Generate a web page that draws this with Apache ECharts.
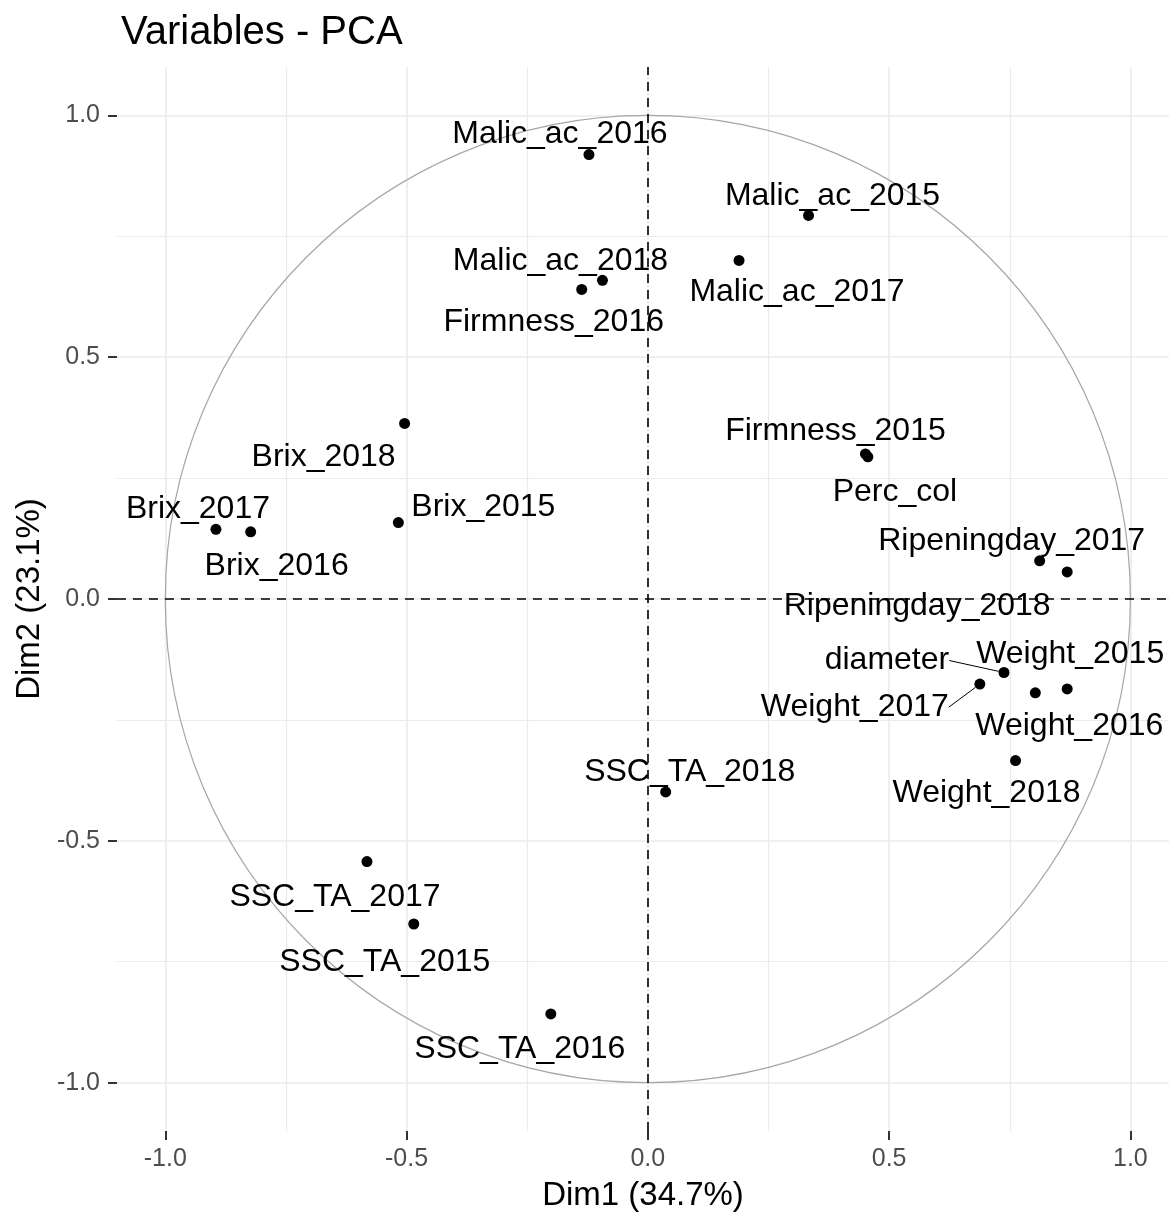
<!DOCTYPE html>
<html>
<head>
<meta charset="utf-8">
<script src="https://cdn.jsdelivr.net/npm/echarts@6/dist/echarts.min.js"></script>
<style>
  html, body { margin: 0; padding: 0; background: #fff; }
  #main { width: 1169px; height: 1212px; }
</style>
</head>
<body>
<div id="main"></div>
<script>
// variable coordinates
var varNames = ["Malic_ac_2015","Malic_ac_2016","Malic_ac_2017","Malic_ac_2018",
    "Firmness_2016","Firmness_2015","Perc_col",
    "Brix_2015","Brix_2016","Brix_2017","Brix_2018",
    "Ripeningday_2017","Ripeningday_2018","diameter",
    "Weight_2015","Weight_2016","Weight_2017","Weight_2018",
    "SSC_TA_2015","SSC_TA_2016","SSC_TA_2017","SSC_TA_2018"];
var dim1 = [0.333,-0.122,0.189,-0.094,
    -0.137,0.451,0.456,
    -0.517,-0.823,-0.895,-0.504,
    0.812,0.869,0.738,
    0.869,0.803,0.688,0.762,
    -0.485,-0.201,-0.582,0.037];
var dim2 = [0.793,0.919,0.700,0.659,
    0.640,0.300,0.294,
    0.158,0.139,0.144,0.363,
    0.079,0.056,-0.152,
    -0.186,-0.194,-0.176,-0.334,
    -0.672,-0.858,-0.543,-0.399];

var majorBreaks = [-1.0,-0.5,0.0,0.5,1.0];
var minorBreaks = [-0.75,-0.25,0.25,0.75];
var corCircle = [0, 0, 1]; // centre x, centre y, radius

// where each text label sits relative to its point (pixels), like ggrepel put them
var labelNudge = {
    "Malic_ac_2016":[-29,-20], "Malic_ac_2015":[24,-19], "Malic_ac_2017":[58,32],
    "Malic_ac_2018":[-42,-19], "Firmness_2016":[-28,33], "Firmness_2015":[-30,-23],
    "Perc_col":[27,35], "Brix_2018":[-81,34], "Brix_2017":[-18,-20],
    "Brix_2016":[26,34], "Brix_2015":[85,-15], "Ripeningday_2017":[-28,-20],
    "Ripeningday_2018":[-150,34], "diameter":[-117,-12], "Weight_2017":[-125,23],
    "Weight_2015":[3,-35], "Weight_2016":[34,33], "Weight_2018":[-29,33],
    "SSC_TA_2018":[24,-20], "SSC_TA_2017":[-32,36], "SSC_TA_2015":[-29,38],
    "SSC_TA_2016":[-31,35]
};
var withSegment = ["diameter","Weight_2017"];

var fontName = "'Liberation Sans', Arial, sans-serif";

var points = [];
for (var i = 0; i < varNames.length; i++) {
    var item = {
        name: varNames[i],
        value: [dim1[i], dim2[i]],
        label: { offset: labelNudge[varNames[i]] }
    };
    if (withSegment.indexOf(varNames[i]) >= 0) {
        item.labelLine = { show: true, lineStyle: { color: '#000', width: 1 } };
    }
    points.push(item);
}

var gridLines = [];
majorBreaks.forEach(function (v) {
    gridLines.push({ xAxis: v, lineStyle: { color: '#EBEBEB', width: 1.6, type: 'solid' } });
    gridLines.push({ yAxis: v, lineStyle: { color: '#EBEBEB', width: 1.6, type: 'solid' } });
});
minorBreaks.forEach(function (v) {
    gridLines.push({ xAxis: v, lineStyle: { color: '#EBEBEB', width: 1.2, type: 'solid' } });
    gridLines.push({ yAxis: v, lineStyle: { color: '#EBEBEB', width: 1.2, type: 'solid' } });
});

var chart = echarts.init(document.getElementById('main'));

var option = {
    animation: false,
    backgroundColor: '#fff',
    textStyle: { fontFamily: fontName },
    title: {
        text: 'Variables - PCA',
        left: 116,
        top: 8,
        textStyle: { fontSize: 40, fontWeight: 'normal', color: '#000', fontFamily: fontName }
    },
    grid: { left: 117, top: 67, right: 0, bottom: 81, containLabel: false, outerBoundsMode: 'none' },
    xAxis: {
        type: 'value',
        min: -1.1,
        max: 1.08,
        name: 'Dim1 (34.7%)',
        nameLocation: 'middle',
        nameGap: 48,
        nameTextStyle: { fontSize: 33, color: '#000', fontFamily: fontName },
        axisLine: { show: true, onZero: false, lineStyle: { color: 'rgba(0,0,0,0)', width: 0 } },
        axisTick: { show: true, length: 9, customValues: majorBreaks,
            lineStyle: { color: '#333', width: 2 } },
        axisLabel: { customValues: majorBreaks, margin: 16, fontSize: 25, color: '#4D4D4D',
            fontFamily: fontName, formatter: function (v) { return v.toFixed(1); } },
        splitLine: { show: false }
    },
    yAxis: {
        type: 'value',
        min: -1.1,
        max: 1.1,
        name: 'Dim2 (23.1%)',
        nameLocation: 'middle',
        nameGap: 66,
        nameRotate: 90,
        nameTextStyle: { fontSize: 33, color: '#000', fontFamily: fontName },
        axisLine: { show: true, onZero: false, lineStyle: { color: 'rgba(0,0,0,0)', width: 0 } },
        axisTick: { show: true, length: 9, customValues: majorBreaks,
            lineStyle: { color: '#333', width: 2 } },
        axisLabel: { customValues: majorBreaks, margin: 17, fontSize: 25, color: '#4D4D4D',
            fontFamily: fontName, formatter: function (v) { return v.toFixed(1); } },
        splitLine: { show: false }
    },
    series: [
        {
            // panel grid
            name: 'grid',
            type: 'scatter',
            data: [],
            z: 1,
            silent: true,
            markLine: {
                z: 1,
                silent: true,
                symbol: ['none', 'none'],
                label: { show: false },
                data: gridLines
            }
        },
        {
            // correlation circle
            name: 'circle',
            type: 'custom',
            z: 3,
            silent: true,
            data: [corCircle],
            renderItem: function (params, api) {
                var c = api.coord([api.value(0), api.value(1)]);
                var s = api.size([api.value(2), api.value(2)]);
                return {
                    type: 'ellipse',
                    shape: { cx: c[0], cy: c[1], rx: s[0], ry: s[1] },
                    style: { fill: null, stroke: '#A6A6A6', lineWidth: 1.2 }
                };
            }
        },
        {
            name: 'variables',
            type: 'scatter',
            z: 10,
            symbol: 'circle',
            symbolSize: 11,
            itemStyle: { color: '#000', opacity: 1 },
            data: points,
            label: {
                show: true,
                position: 'inside',
                formatter: '{b}',
                fontSize: 32,
                color: '#000',
                fontFamily: fontName,
                align: 'center',
                verticalAlign: 'middle'
            },
            markLine: {
                z: 4,
                silent: true,
                symbol: ['none', 'none'],
                label: { show: false },
                lineStyle: { color: '#000', width: 1.6, type: [9, 7] },
                data: [{ xAxis: 0 }, { yAxis: 0 }]
            }
        }
    ]
};
chart.setOption(option);
</script>
</body>
</html>
